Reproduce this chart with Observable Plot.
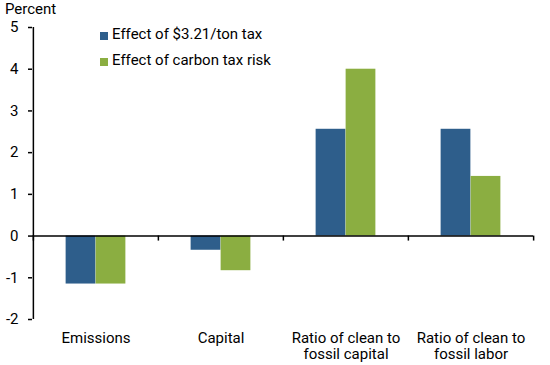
<!DOCTYPE html>
<html>
<head>
<meta charset="utf-8">
<script src="https://cdn.jsdelivr.net/npm/d3@7"></script>
<script src="https://cdn.jsdelivr.net/npm/@observablehq/plot@0.6"></script>
<style>
  html, body { margin: 0; padding: 0; background: #fff; }
  #wrap { position: relative; width: 550px; height: 365px; font-family: Roboto, sans-serif; color: #000; }
  #ylabel { position: absolute; left: 5px; top: 2px; font-size: 15px; line-height: 15px; }
  .legtxt { position: absolute; left: 112px; font-size: 15px; line-height: 15px; white-space: nowrap; }
  .sw { position: absolute; left: 100px; width: 8px; height: 8px; }
</style>
</head>
<body>
<div id="wrap">
  <div id="chart"></div>
  <div id="ylabel">Percent</div>
  <div class="sw" id="sw0" style="top:32px"></div>
  <div class="legtxt" id="leg0" style="top:27px"></div>
  <div class="sw" id="sw1" style="top:58px"></div>
  <div class="legtxt" id="leg1" style="top:53px"></div>
</div>
<script>
const categories = ["Emissions", "Capital", "Ratio of clean to\nfossil capital", "Ratio of clean to\nfossil labor"];
const seriesNames = ["Effect of $3.21/ton tax", "Effect of carbon tax risk"];
const taxValues = [-1.15, -0.34, 2.56, 2.56];
const riskValues = [-1.15, -0.83, 4.0, 1.43];
const yTicks = [-2, -1, 0, 1, 2, 3, 4, 5];
const colors = ["#2e5e8b", "#8bae41"];

const W = 550, H = 365, mL = 32, mR = 17, mT = 27, mB = 46;
const bw = (W - mL - mR) / categories.length;
const barW = 30;

const taxData = categories.map((c, i) => ({cat: c, value: taxValues[i]}));
const riskData = categories.map((c, i) => ({cat: c, value: riskValues[i]}));

const chart = Plot.plot({
  width: W, height: H,
  marginLeft: mL, marginRight: mR, marginTop: mT, marginBottom: mB,
  style: {fontFamily: "Roboto, sans-serif", fontSize: "15px", color: "#000", background: "#fff"},
  x: {domain: categories, padding: 0, axis: null},
  y: {domain: [yTicks[0], yTicks[yTicks.length - 1]], axis: null},
  marks: [
    Plot.barY(taxData, {x: "cat", y: "value", fill: colors[0], insetLeft: bw / 2 - barW, insetRight: bw / 2}),
    Plot.barY(riskData, {x: "cat", y: "value", fill: colors[1], insetLeft: bw / 2, insetRight: bw / 2 - barW}),
    Plot.ruleY([0], {stroke: "#000", strokeWidth: 1.5}),
    Plot.ruleX([categories[0]], {y1: yTicks[0], y2: yTicks[yTicks.length - 1], dx: -bw / 2, stroke: "#000", strokeWidth: 1.5}),
    Plot.ruleX(categories, {x: d => d, y1: 0, y2: 0, insetBottom: -5, dx: -bw / 2, stroke: "#000", strokeWidth: 1.5}),
    Plot.ruleX([categories[categories.length - 1]], {y1: 0, y2: 0, insetBottom: -5, dx: bw / 2, stroke: "#000", strokeWidth: 1.5}),
    Plot.axisY({ticks: yTicks, tickSize: 4, tickPadding: 10, tickFormat: d => String(d), label: null, strokeWidth: 1.5, fontSize: 15}),
    Plot.axisX({tickSize: 0, tickPadding: 12, label: null, lineHeight: 1.07, fontSize: 15})
  ]
});
document.getElementById("chart").appendChild(chart);

seriesNames.forEach((s, i) => {
  document.getElementById("sw" + i).style.background = colors[i];
  document.getElementById("leg" + i).textContent = s;
});
</script>
</body>
</html>
